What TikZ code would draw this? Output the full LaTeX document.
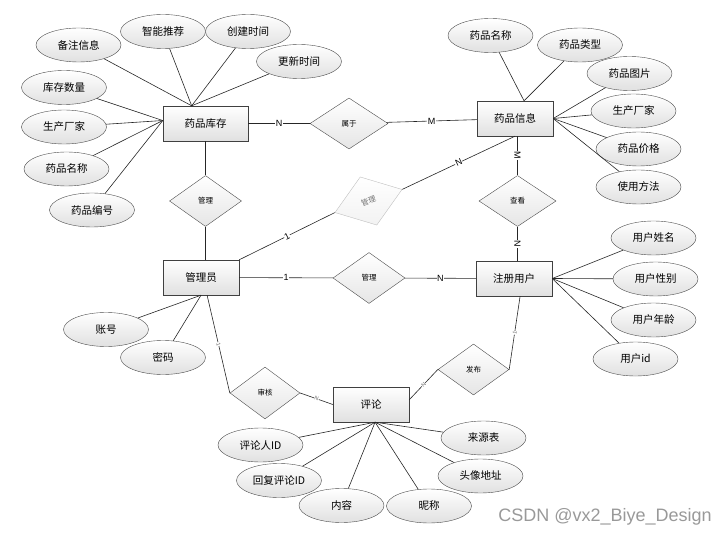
\documentclass[tikz,border=0pt]{standalone}
\usepackage{fontspec}
\setmainfont{Noto Sans CJK SC}
\newfontfamily\lab{Liberation Sans}
\usepackage{tikz}
\usetikzlibrary{shapes.geometric}

\begin{document}
\begin{tikzpicture}[x=1pt, y=-1pt,
			entity/.style={draw=black!75, rectangle, minimum width=76pt, minimum height=35pt, inner sep=2pt, top color=white, bottom color=black!12, font=\fontsize{10.5}{12}\selectfont},
			attr/.style={draw=black!70, ellipse, minimum width=85pt, minimum height=34pt, inner sep=0pt, top color=white, bottom color=black!12, font=\fontsize{10.5}{12}\selectfont},
			rel/.style={draw=black!70, diamond, minimum width=72pt, minimum height=51pt, inner sep=0pt, top color=white, bottom color=black!10, font=\fontsize{7.5}{9}\selectfont},
			link/.style={draw=black!85, line width=0.6pt},
			card/.style={fill=white, inner sep=0.5pt, font=\lab\fontsize{9}{10}\selectfont},
			tick/.style={fill=white, inner sep=0.3pt, text=black!60, font=\lab\fontsize{5.5}{6}\selectfont}]
			\useasboundingbox (0,0) rectangle (728,537);

			% entities
			\node[entity, minimum width=85pt] (kc) at (205.5,123.5) {药品库存};
			\node[entity] (yp) at (515,118.5) {药品信息};
			\node[entity] (ad) at (201,277.5) {管理员};
			\node[entity] (us) at (514,278.5) {注册用户};
			\node[entity] (pl) at (371,404.5) {评论};

			% relations
			\node[rel, minimum width=78pt] (sy) at (349,123.5) {属于};
			\node[rel] (gl) at (205.5,201) {管理};
			\node[rel, minimum width=77pt] (ck) at (517.5,201) {查看};
			\node[rel] (gm) at (369,278) {管理};
			\node[rel, draw=black!25, text=black!55, bottom color=black!5, rotate=19, minimum width=71pt] (gd) at (368.5,201) {管理};
			\node[rel, minimum width=70pt, minimum height=52pt] (sh) at (265,393) {审核};
			\node[rel, minimum width=71pt] (fb) at (473.5,369.5) {发布};

			% attributes of 药品库存
			\node[attr] (kc1) at (78.5,45) {备注信息};
			\node[attr] (kc2) at (163,31.5) {智能推荐};
			\node[attr] (kc3) at (248,31.5) {创建时间};
			\node[attr] (kc4) at (299,61.5) {更新时间};
			\node[attr] (kc5) at (64,87.5) {库存数量};
			\node[attr] (kc6) at (64,127) {生产厂家};
			\node[attr] (kc7) at (66.5,169) {药品名称};
			\node[attr] (kc8) at (92,210) {药品编号};
			\foreach \a in {kc1,kc2,kc3,kc4}
				\draw[link] (\a) -- (kc.128);
			\foreach \a in {kc5,kc6,kc7,kc8}
				\draw[link] (\a) -- (kc.176);

			% attributes of 药品信息
			\node[attr] (yp1) at (490.5,35.5) {药品名称};
			\node[attr] (yp2) at (580,45) {药品类型};
			\node[attr] (yp3) at (629.5,73.5) {药品图片};
			\node[attr] (yp4) at (633.5,111) {生产厂家};
			\node[attr] (yp5) at (638.5,149) {药品价格};
			\node[attr] (yp6) at (638.5,187) {使用方法};
			\foreach \a in {yp1,yp2}
				\draw[link] (\a) -- (yp.63);
			\foreach \a in {yp3,yp4,yp5,yp6}
				\draw[link] (\a) -- (yp.east);

			% attributes of 注册用户
			\node[attr] (us1) at (653.5,238) {用户姓名};
			\node[attr] (us2) at (655.5,279) {用户性别};
			\node[attr] (us3) at (653.5,320) {用户年龄};
			\node[attr] (us4) at (635.5,359) {用户id};
			\foreach \a in {us1,us2,us3,us4}
				\draw[link] (\a) -- (us.east);

			% attributes of 评论
			\node[attr] (pl1) at (260.5,445) {评论人ID};
			\node[attr] (pl2) at (279,480.5) {回复评论ID};
			\node[attr] (pl3) at (341.5,505.5) {内容};
			\node[attr] (pl4) at (429,506) {昵称};
			\node[attr] (pl5) at (480.5,476) {头像地址};
			\node[attr] (pl6) at (483.5,438) {来源表};
			\foreach \a in {pl1,pl2,pl3,pl4,pl5,pl6}
				\draw[link] (\a) -- (pl.-77);

			% attributes of 管理员
			\node[attr] (ad1) at (106,329.5) {账号};
			\node[attr] (ad2) at (163,357.5) {密码};
			\foreach \a in {ad1,ad2}
				\draw[link] (\a) -- (ad.south);

			% relationships
			\draw[link] (kc) -- node[card]{N} (sy);
			\draw[link] (sy) -- node[card]{M} (yp);
			\draw[link] (kc) -- (gl);
			\draw[link] (gl) -- (gl |- ad.north);
			\draw[link] (ck.north |- yp.south) -- node[card, sloped]{M} (ck);
			\draw[link] (ck) -- node[card, sloped]{N} (ck |- us.north);
			\draw[link] (ad) -- node[card]{1} (gm);
			\draw[link] (gm) -- node[card]{N} (us);
			\draw[link] (ad.north east) -- node[card, sloped]{1} (gd.west);
			\draw[link] (gd.east) -- node[card, sloped]{N} (yp.south);
			\draw[link] (ad.-71) -- node[tick, sloped]{1} (sh.west);
			\draw[link] (sh.east) -- node[tick, sloped]{N} (pl.west);
			\draw[link] (us.-71) -- node[tick, sloped]{1} (fb.east);
			\draw[link] (fb.west) -- node[tick, sloped]{N} (pl.7);

			\node[text=black!40, font=\lab\fontsize{18}{20}\selectfont] (wm) at (605,517) {CSDN @vx2\_Biye\_Design};
			\end{tikzpicture}
\end{document}
